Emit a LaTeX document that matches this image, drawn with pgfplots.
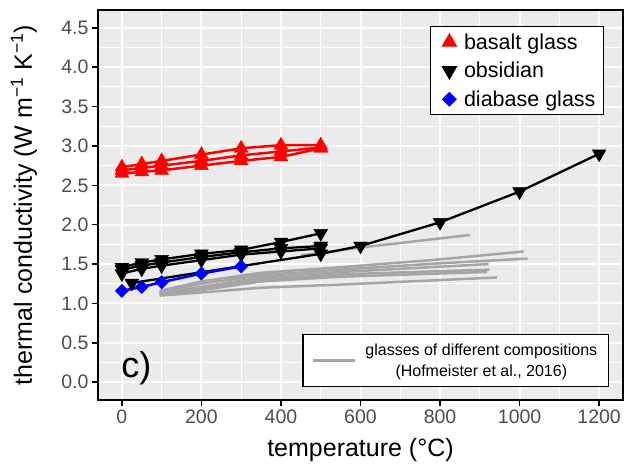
\documentclass[border=0pt]{standalone}
\usepackage{fontspec}
\setmainfont{Liberation Sans}
\usepackage{pgfplots}
\pgfplotsset{compat=1.18}
\usetikzlibrary{calc}
\definecolor{panel}{RGB}{235,235,235}
\definecolor{hofgray}{RGB}{165,165,165}
\definecolor{ticktext}{RGB}{77,77,77}
\tikzset{
    hof/.style={hofgray, line width=2.5pt, no markers},
    basalt/.style={red, line width=2.5pt, mark=triangle*, mark size=8pt, mark options={solid, line width=0.4pt}},
    obs/.style={black, line width=2.3pt, mark=triangle*, mark size=8pt, mark options={solid, rotate=180, line width=0.4pt}},
    diab/.style={blue, line width=2.5pt, mark=square*, mark size=4.7pt, mark options={solid, rotate=45, line width=0.4pt}}
}
\begin{document}
\begin{tikzpicture}
\begin{axis}[
    name=ax,
    scale only axis,
    width=525pt, height=390pt,
    xmin=-60, xmax=1260,
    ymin=-0.225, ymax=4.725,
    xtick={0,200,...,1200},
    ytick={0,0.5,...,4.5},
    minor tick num=1,
    minor tick length=0pt,
    major tick length=6pt,
    tick align=outside,
    xtick pos=bottom, ytick pos=left,
    grid=both,
    major grid style={white, line width=2pt},
    minor grid style={white, line width=1pt},
    axis background/.style={fill=panel},
    axis line style={black, line width=1.6pt},
    major tick style={black, line width=1.6pt},
    /pgf/number format/assume math mode=true,
    /pgf/number format/1000 sep={},
    yticklabel style={/pgf/number format/.cd, fixed, fixed zerofill, precision=1},
    ticklabel style={font=\fontsize{19.5}{22}\selectfont, text=ticktext},
    xlabel={temperature (°C)},
    ylabel={thermal conductivity (W m\textsuperscript{−1} K\textsuperscript{−1})},
    every axis x label/.style={at={(axis description cs:0.5,0)}, anchor=center, yshift=-50pt, font=\fontsize{25}{28}\selectfont},
    every axis y label/.style={at={(axis description cs:0,0.5)}, rotate=90, anchor=center, yshift=74pt, font=\fontsize{25}{28}\selectfont},
    legend style={at={(0.964,0.959)}, anchor=north east, draw=black, line width=1.2pt, fill=white,
        font=\fontsize{21.5}{24}\selectfont, inner xsep=6pt, inner ysep=5pt, row sep=7.5pt,
        cells={anchor=west}},
    legend image code/.code={\draw[#1] plot coordinates {(0pt,0pt)}; \path (-12pt,0pt) (12pt,0pt);},
]
% Hofmeister et al. (2016) glasses
\addplot[hof, forget plot] coordinates {(95,1.16) (200,1.28) (350,1.39) (550,1.46) (800,1.56) (1010,1.66)};
\addplot[hof, forget plot] coordinates {(95,1.15) (200,1.25) (350,1.36) (550,1.43) (800,1.51) (1020,1.57)};
\addplot[hof, forget plot] coordinates {(95,1.13) (200,1.21) (350,1.33) (550,1.40) (922,1.50)};
\addplot[hof, forget plot] coordinates {(95,1.12) (200,1.19) (350,1.30) (550,1.37) (924,1.43)};
\addplot[hof, forget plot] coordinates {(95,1.11) (200,1.17) (350,1.28) (550,1.34) (918,1.40)};
\addplot[hof, forget plot] coordinates {(95,1.10) (200,1.14) (350,1.20) (550,1.24) (943,1.33)};
\addplot[hof, forget plot] coordinates {(450,1.61) (600,1.71) (876,1.87)};
% basalt glass
\addplot[basalt, forget plot] coordinates {(0,2.73) (50,2.77) (100,2.81) (200,2.89) (300,2.97) (400,3.01) (500,3.01)};
\addplot[basalt, forget plot] coordinates {(0,2.69) (50,2.72) (100,2.75) (200,2.81) (300,2.88) (400,2.93) (500,2.98)};
\addplot[basalt, forget plot] coordinates {(0,2.65) (50,2.67) (100,2.69) (200,2.75) (300,2.81) (400,2.86) (500,2.97)};
% obsidian
\addplot[obs, forget plot] coordinates {(0,1.46) (50,1.52) (100,1.56) (200,1.63) (300,1.68) (400,1.78) (500,1.89)};
\addplot[obs, forget plot] coordinates {(0,1.43) (50,1.48) (100,1.52) (200,1.59) (300,1.65) (400,1.70) (500,1.73)};
\addplot[obs, forget plot] coordinates {(0,1.38) (50,1.44) (100,1.48) (200,1.55) (300,1.62) (400,1.66) (500,1.70)};
\addplot[obs, forget plot] coordinates {(25,1.26) (500,1.63) (600,1.73) (800,2.03) (1000,2.42) (1200,2.90)};
% diabase glass
\addplot[diab, forget plot] coordinates {(0,1.16) (50,1.21) (100,1.27) (200,1.38) (300,1.47)};

\addlegendimage{red, only marks, mark=triangle*, mark size=8pt}
\addlegendentry{basalt glass}
\addlegendimage{black, only marks, mark=triangle*, mark size=8pt, mark options={rotate=180}}
\addlegendentry{obsidian}
\addlegendimage{blue, only marks, mark=square*, mark size=4.7pt, mark options={rotate=45}}
\addlegendentry{diabase glass}

\node[anchor=west, font=\fontsize{36}{40}\selectfont] at (axis cs:-10,0.18) {c)};
\end{axis}
\begin{axis}[
    scale only axis,
    width=525pt, height=390pt,
    xmin=-60, xmax=1260,
    ymin=-0.225, ymax=4.725,
    hide axis,
    legend style={at={(0.973,0.033)}, anchor=south east, draw=black, line width=1.2pt, fill=white,
        font=\fontsize{16}{21}\selectfont, inner xsep=9pt, inner ysep=7pt,
        cells={align=center}},
    legend image code/.code={\draw[#1] (0pt,0pt) -- (42pt,0pt); \path (49pt,0pt);},
]
\addlegendimage{hofgray, line width=2.5pt}
\addlegendentry{glasses of different compositions\\(Hofmeister et al., 2016)}
\end{axis}
\pgfresetboundingbox
\path ($(ax.south west)+(-98pt,-64pt)$) rectangle ($(ax.north east)+(2pt,10pt)$);
\end{tikzpicture}
\end{document}
